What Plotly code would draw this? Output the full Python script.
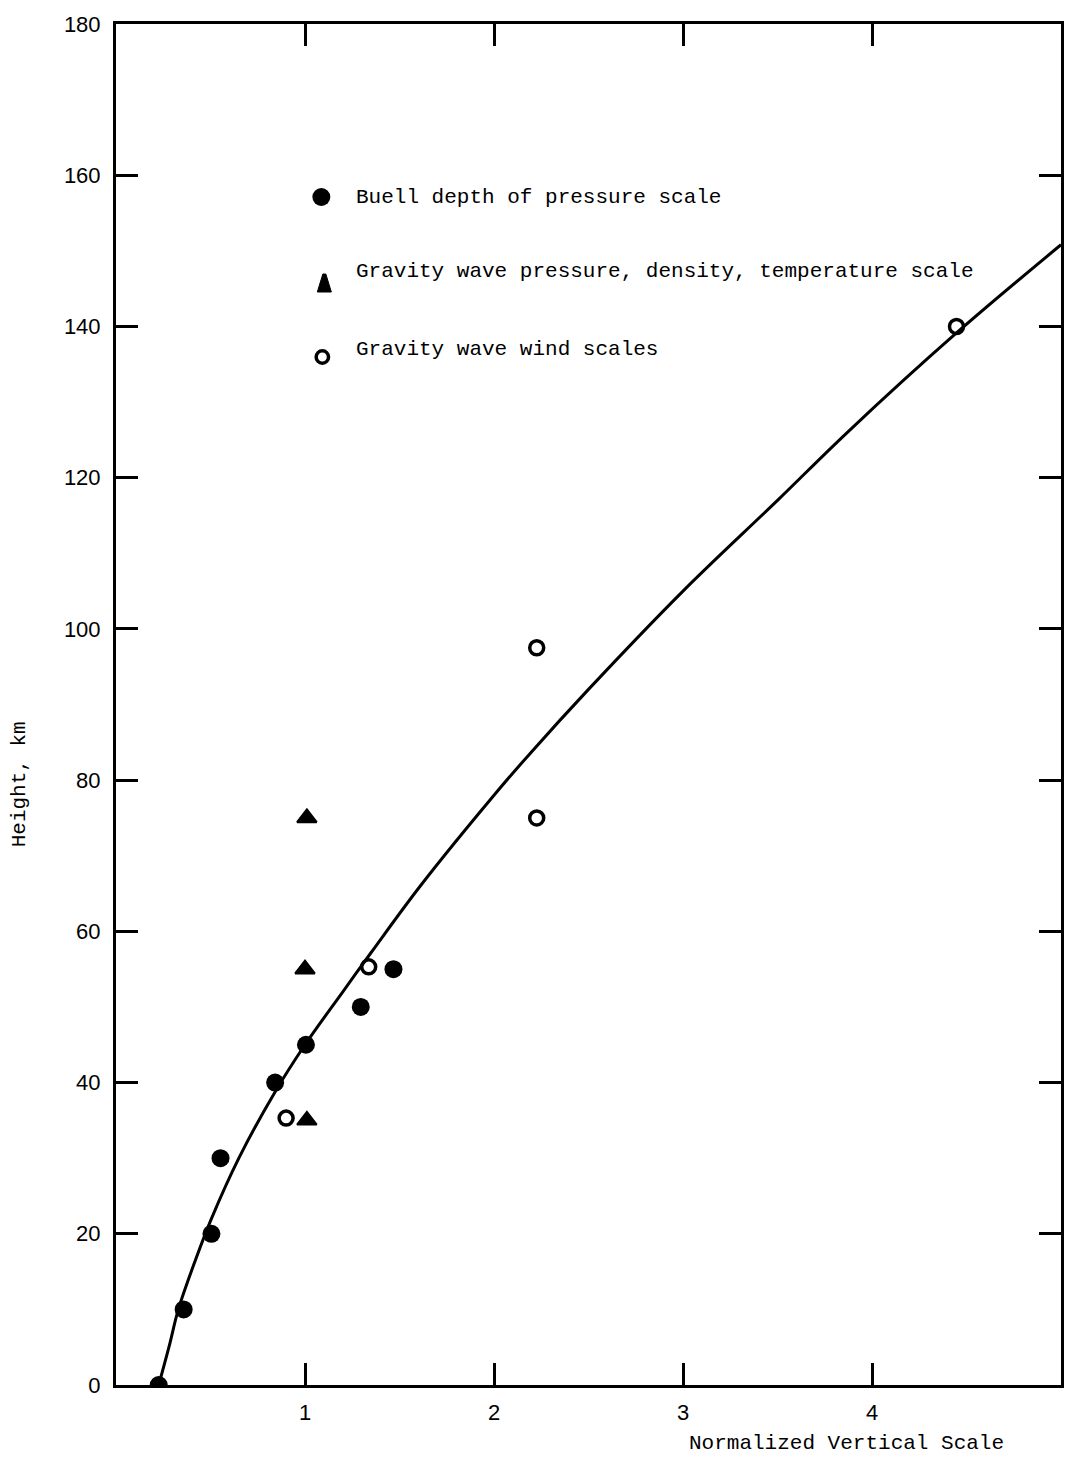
import plotly.graph_objects as go

# ---- data ----
buell_x = [0.226, 0.358, 0.505, 0.553, 0.842, 1.005, 1.295, 1.468]
buell_y = [0, 10, 20, 30, 40, 45, 50, 55]

gw_pdt_x = [1.01, 1.0, 1.01]
gw_pdt_y = [75, 55, 35]

gw_wind_x = [0.90, 1.337, 2.226, 2.226, 4.447]
gw_wind_y = [35.3, 55.3, 75, 97.5, 140]

curve_x = [0.226, 0.28, 0.33, 0.42, 0.505, 0.65, 0.84, 1.0, 1.2, 1.35, 1.61,
           2.0, 2.19, 2.5, 3.0, 3.5, 3.87, 4.45, 5.0]
curve_y = [0, 5, 10, 16.5, 22, 30, 38.7, 45, 52, 57.2, 66,
           78, 83.5, 92, 105, 117, 126, 139.2, 150.8]

x_tickvals = [1, 2, 3, 4]
x_ticktext = ["1", "2", "3", "4"]
y_tickvals = [0, 20, 40, 60, 80, 100, 120, 140, 160, 180]

legend_labels = [
    "Buell depth of pressure scale",
    "Gravity wave pressure, density, temperature scale",
    "Gravity wave wind scales",
]

MONO = "Liberation Mono, DejaVu Sans Mono, monospace"
SANS = "Liberation Sans, Arial, sans-serif"

fig = go.Figure()

fig.add_trace(go.Scatter(
    x=curve_x, y=curve_y, mode="lines",
    line=dict(color="black", width=3, shape="spline", smoothing=1.0),
    showlegend=False, hoverinfo="skip"))

fig.add_trace(go.Scatter(
    x=buell_x, y=buell_y, mode="markers",
    marker=dict(symbol="circle", size=18, color="black"),
    showlegend=False))

fig.add_trace(go.Scatter(
    x=gw_pdt_x, y=gw_pdt_y, mode="markers",
    marker=dict(symbol="triangle-up", size=17, color="black",
                line=dict(color="black", width=2)),
    showlegend=False))

fig.add_trace(go.Scatter(
    x=gw_wind_x, y=gw_wind_y, mode="markers",
    marker=dict(symbol="circle-open", size=14, color="black",
                line=dict(color="black", width=3.5)),
    showlegend=False))

L, R, T, B = 116, 2, 24, 74
W, H = 1066, 1459
pw, ph = W - L - R, H - T - B


def px_x(px):
    return (px - L) / pw


def px_y(py):
    return (H - B - py) / ph


# legend text
legend_y_px = [197, 272, 349]
annotations = []
for lab, yy in zip(legend_labels, legend_y_px):
    annotations.append(dict(
        x=px_x(355), y=px_y(yy), xref="paper", yref="paper",
        xanchor="left", yanchor="middle", text=lab, showarrow=False,
        font=dict(family=MONO, size=21, color="black")))

annotations.append(dict(
    x=px_x(849), y=px_y(1443), xref="paper", yref="paper",
    xanchor="center", yanchor="middle", text="Normalized Vertical Scale",
    showarrow=False, font=dict(family=MONO, size=21, color="black")))
annotations.append(dict(
    x=px_x(20), y=px_y(784), xref="paper", yref="paper",
    xanchor="center", yanchor="middle", text="Height, km", textangle=-90,
    showarrow=False, font=dict(family=MONO, size=21, color="black")))

# legend symbols as shapes (pixel sized)
shapes = [
    dict(type="circle", xref="paper", yref="paper",
         xsizemode="pixel", ysizemode="pixel",
         xanchor=px_x(322), yanchor=px_y(197),
         x0=-9, x1=9, y0=-9, y1=9,
         fillcolor="black", line=dict(color="black", width=0)),
    dict(type="path", xref="paper", yref="paper",
         xsizemode="pixel", ysizemode="pixel",
         xanchor=px_x(325), yanchor=px_y(283),
         path="M-7,-9 L7,-9 L1.5,9 L-1.5,9 Z",
         fillcolor="black", line=dict(color="black", width=1)),
    dict(type="circle", xref="paper", yref="paper",
         xsizemode="pixel", ysizemode="pixel",
         xanchor=px_x(323), yanchor=px_y(357),
         x0=-6.2, x1=6.2, y0=-6.2, y1=6.2,
         fillcolor="rgba(0,0,0,0)", line=dict(color="black", width=3.5)),
]

fig.update_layout(
    width=W, height=H,
    margin=dict(l=L, r=R, t=T, b=B),
    paper_bgcolor="white", plot_bgcolor="white",
    showlegend=False,
    annotations=annotations,
    shapes=shapes,
    xaxis=dict(
        range=[0, 5], tickvals=x_tickvals, ticktext=x_ticktext,
        ticks="inside", ticklen=22, tickwidth=3, tickcolor="black",
        showline=True, linewidth=3, linecolor="black", mirror="ticks",
        showgrid=False, zeroline=False,
        tickfont=dict(family=SANS, size=22, color="black"),
        ticklabelstandoff=6,
    ),
    yaxis=dict(
        range=[0, 180], tickvals=y_tickvals,
        ticks="inside", ticklen=22, tickwidth=3, tickcolor="black",
        showline=True, linewidth=3, linecolor="black", mirror="ticks",
        showgrid=False, zeroline=False,
        tickfont=dict(family=SANS, size=22, color="black"),
        ticklabelstandoff=8,
    ),
)

fig.write_html(
    "out.html",
    config={"displayModeBar": False},
    post_script="document.body.style.margin='0';document.body.style.overflow='hidden';",
)
